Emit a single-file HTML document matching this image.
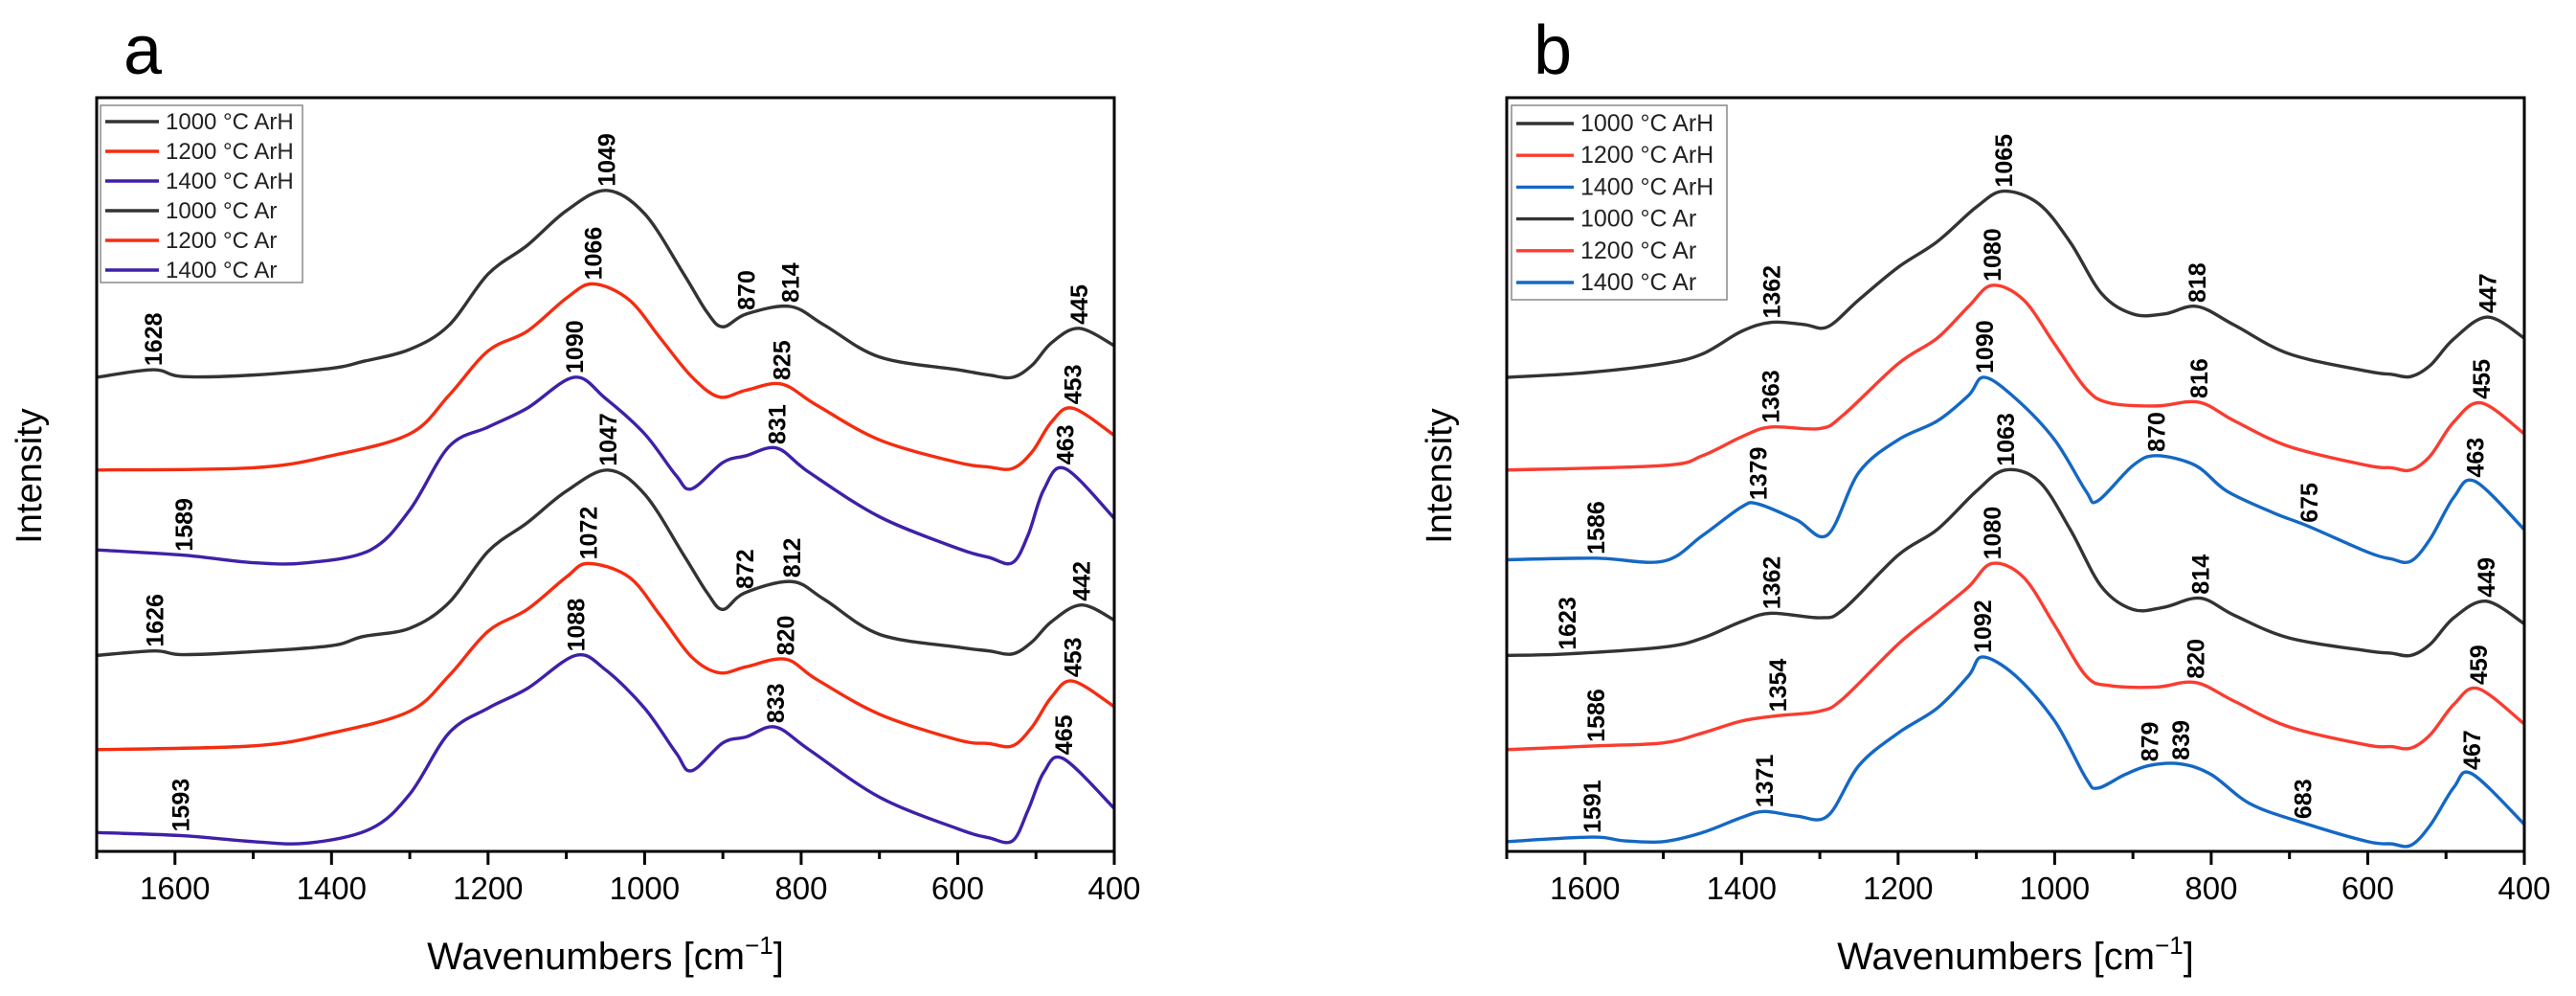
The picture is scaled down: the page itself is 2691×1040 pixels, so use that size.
<!DOCTYPE html>
<html><head><meta charset="utf-8"><style>
body{margin:0;background:#fff;}
svg{display:block;font-family:"Liberation Sans",sans-serif;}
</style></head><body>
<svg id="chart" width="2691" height="1040" viewBox="0 0 2691 1040"></svg>
<script>
const ticksX=[1600,1400,1200,1000,800,600,400];
const minorX=[1700,1600,1500,1400,1300,1200,1100,1000,900,800,700,600,500,400];
const legendLabels=["1000 °C ArH","1200 °C ArH","1400 °C ArH","1000 °C Ar","1200 °C Ar","1400 °C Ar"];
// Panel a data
const a1W=[1700,1628,1590,1500,1400,1360,1300,1250,1200,1150,1100,1049,1000,950,920,900,870,814,770,700,600,560,530,505,480,445,400];
const a1V=[62.9,63.9,63.0,63.2,64.1,65.0,66.6,69.8,76.6,80.4,85.0,87.7,84.6,76.6,71.5,69.6,71.3,72.3,69.8,65.6,63.9,63.2,62.9,64.5,67.5,69.4,67.1];
const a2W=[1700,1500,1400,1300,1250,1200,1150,1100,1066,1020,980,940,905,870,825,780,700,600,560,530,505,480,453,400];
const a2V=[50.6,50.9,52.5,55.4,60.5,66.4,69.0,73.4,75.3,73.2,68.1,63.0,60.3,61.2,62.0,59.2,54.6,51.6,51.0,50.8,53.0,57.0,58.8,55.2];
const a3W=[1700,1589,1500,1430,1350,1300,1250,1200,1150,1090,1050,1000,960,940,900,870,831,790,700,600,560,530,510,490,463,400];
const a3V=[40.0,39.3,38.3,38.3,40.0,45.3,53.7,56.3,58.8,62.9,60.1,55.4,49.9,48.1,51.6,52.5,53.5,50.3,44.4,40.2,39.0,38.3,42.0,48.0,50.8,44.2];
const a4W=[1700,1626,1590,1500,1400,1360,1300,1250,1200,1150,1100,1047,1000,950,920,900,872,812,770,700,600,560,530,505,480,442,400];
const a4V=[26.0,26.6,26.1,26.5,27.3,28.5,29.6,33.0,39.8,43.6,47.8,50.6,47.4,39.3,34.3,32.1,34.3,35.8,33.4,28.8,27.1,26.6,26.2,27.8,30.5,32.7,30.7];
const a5W=[1700,1500,1400,1300,1250,1200,1150,1100,1072,1020,980,940,905,870,820,780,700,600,560,530,505,480,453,400];
const a5V=[13.5,14.0,15.7,18.6,23.3,29.2,32.1,36.4,38.2,36.4,31.3,25.8,23.7,24.5,25.5,22.8,18.2,14.8,14.3,14.0,16.5,20.5,22.6,19.2];
const a6W=[1700,1593,1500,1430,1350,1300,1250,1200,1150,1088,1050,1000,960,940,900,870,833,790,700,600,560,530,510,490,465,400];
const a6V=[2.5,2.1,1.3,1.1,3.0,7.6,15.7,19.0,21.6,26.0,24.1,19.0,13.1,10.7,14.4,15.2,16.5,13.5,7.2,3.0,1.8,1.4,5.5,10.5,12.3,5.7];
// Panel b data
const b1W=[1700,1600,1500,1450,1400,1362,1320,1290,1250,1200,1150,1100,1065,1020,980,940,900,860,818,770,700,600,570,545,520,490,447,400];
const b1V=[62.9,63.5,64.7,66.0,69.0,70.2,69.9,69.6,73.2,77.5,80.9,85.5,87.6,85.9,80.8,74.0,71.3,71.3,72.3,69.8,66.0,63.7,63.3,63.0,64.5,68.0,70.9,68.1];
const b2W=[1700,1500,1450,1400,1363,1300,1270,1200,1150,1110,1080,1040,1000,960,930,870,816,770,700,600,570,545,520,490,455,400];
const b2V=[50.6,51.2,52.5,55.0,56.3,56.1,57.9,64.7,68.1,72.3,75.1,73.2,67.3,61.4,59.5,59.1,59.6,57.1,53.7,51.2,50.9,50.6,52.5,57.0,59.5,55.4];
const b3W=[1700,1586,1500,1450,1400,1379,1330,1290,1250,1200,1150,1110,1090,1050,1000,960,945,900,870,820,780,720,675,600,570,545,520,490,463,400];
const b3V=[38.7,38.9,38.5,41.9,45.7,46.1,44.0,42.0,50.3,54.6,57.1,60.5,62.9,60.1,54.6,47.8,46.5,51.2,52.5,51.2,47.8,44.9,43.1,39.7,38.8,38.5,41.5,47.0,49.1,42.7];
const b4W=[1700,1623,1500,1450,1400,1362,1300,1270,1200,1150,1100,1063,1020,980,940,900,860,814,770,700,600,570,545,520,490,449,400];
const b4V=[26.0,26.2,27.1,28.3,30.5,31.6,31.0,32.1,39.3,42.7,47.8,50.6,49.1,42.7,35.1,32.1,32.4,33.6,31.3,28.3,26.6,26.3,26.0,27.5,31.0,33.2,30.2];
const b5W=[1700,1586,1500,1450,1400,1354,1300,1270,1200,1150,1110,1080,1040,1000,960,930,870,820,770,700,600,570,545,520,490,459,400];
const b5V=[13.5,14.0,14.4,15.7,17.3,18.0,18.6,20.3,27.5,31.7,35.1,38.2,36.4,30.0,23.3,22.0,21.8,22.4,19.9,16.5,14.1,13.9,13.7,15.5,19.5,21.6,16.9];
const b6W=[1700,1591,1550,1500,1450,1400,1371,1330,1290,1250,1200,1150,1110,1092,1050,1000,960,945,910,879,839,800,750,683,600,570,545,520,490,467,400];
const b6V=[1.3,1.9,1.4,1.3,2.5,4.5,5.3,4.7,4.7,11.4,15.7,19.0,23.3,25.8,23.3,17.3,9.7,8.4,10.2,11.4,11.6,10.2,6.3,3.8,1.3,1.0,0.8,3.5,8.5,10.3,3.6];
// Peak labels
const a1P=[1628,1049,870,814,445],a2P=[1066,825,453],a3P=[1589,1090,831,463],a4P=[1626,1047,872,812,442],a5P=[1072,820,453],a6P=[1593,1088,833,465];
const b1P=[1362,1065,818,447],b2P=[1363,1080,816,455],b3P=[1586,1379,1090,870,675,463],b4P=[1623,1362,1063,814,449],b5P=[1586,1354,1080,820,459],b6P=[1591,1371,1092,879,839,683,467];

const NS="http://www.w3.org/2000/svg";
const svg=document.getElementById('chart');
function mk(tag,attrs,parent){const e=document.createElementNS(NS,tag);for(const k in attrs)e.setAttribute(k,attrs[k]);(parent||svg).appendChild(e);return e;}

function panel(id,L,R,T,B,letter,series,colors,legend){
  const g=mk('g',{});
  
  
  const xs=w=>L+(1700-w)/1300*(R-L);
  const ys=v=>B-v/100*(B-T);
  const lt=mk('text',{x:L+48,y:77,'font-size':72,'text-anchor':'middle',fill:'#000'},g);lt.textContent=letter;
  
  
  series.forEach((s,i)=>{
    const W=s[0],V=s[1];
    const P=W.map((w,k)=>[xs(w),ys(V[k])]);
    let d='M'+P[0][0]+','+P[0][1];
    for(let k=0;k<P.length-1;k++){
      const p0=P[Math.max(0,k-1)],p1=P[k],p2=P[k+1],p3=P[Math.min(P.length-1,k+2)];
      const c1=[p1[0]+(p2[0]-p0[0])/6,p1[1]+(p2[1]-p0[1])/6];
      const c2=[p2[0]-(p3[0]-p1[0])/6,p2[1]-(p3[1]-p1[1])/6];
      d+=' C'+c1[0]+','+c1[1]+' '+c2[0]+','+c2[1]+' '+p2[0]+','+p2[1];
    }
    const path=mk('path',{d:d,fill:'none',stroke:colors[i],'stroke-width':3.4,'stroke-linejoin':'round'},g);
    
    
    s[2].forEach(pw=>{
      let v=V[0];
      for(let k=0;k<W.length-1;k++){if(pw<=W[k]&&pw>=W[k+1]){const t=(W[k]-pw)/(W[k]-W[k+1]);v=V[k]+t*(V[k+1]-V[k]);break;}}
      const x=xs(pw),y=ys(v)-4;
      const t=mk('text',{x:0,y:0,transform:'translate('+(x+9)+','+y+') rotate(-90)','font-size':25,'font-weight':'bold',fill:'#000'},g);
      t.textContent=String(pw);
      
      
    });
  });
  const fr=mk('rect',{x:L,y:T,width:R-L,height:B-T,fill:'none',stroke:'#000','stroke-width':3},g);
  
  
  minorX.forEach(w=>{
    const major=ticksX.indexOf(w)>=0;
    const tk=mk('line',{x1:xs(w),x2:xs(w),y1:B,y2:B+(major?14:8),stroke:'#000','stroke-width':3},g);
    
    
  });
  ticksX.forEach(w=>{
    const t=mk('text',{x:xs(w),y:939,'font-size':33,'text-anchor':'middle',fill:'#000'},g);
    t.textContent=String(w);
    
    
  });
  const xt=mk('text',{x:(L+R)/2,y:1012,'font-size':40,'text-anchor':'middle',fill:'#000'},g);
  xt.innerHTML='Wavenumbers [cm<tspan dy="-16" font-size="26">−1</tspan><tspan dy="16">]</tspan>';
  
  
  const yt=mk('text',{x:0,y:0,transform:'translate('+(L-58)+',497) rotate(-90)','font-size':38,'text-anchor':'middle',fill:'#000'},g);
  yt.textContent='Intensity';
  
  
  const lg=mk('g',{},g);
  
  
  mk('rect',{x:legend.x,y:legend.y,width:legend.w,height:legend.h,fill:'#fff',stroke:'#888','stroke-width':1.5},lg);
  legendLabels.forEach((lab,i)=>{
    const yy=legend.y+legend.r0+i*legend.dy;
    const e=mk('g',{},lg);
    
    
    mk('line',{x1:legend.x+5,x2:legend.x+5+legend.lw,y1:yy,y2:yy,stroke:colors[i],'stroke-width':3.4},e);
    const t=mk('text',{x:legend.x+legend.lw+12,y:yy+8,'font-size':legend.fs,fill:'#222'},e);
    t.textContent=lab;
  });
}
const colA=['#333333','#f52c10','#3f20a8','#333333','#f52c10','#3f20a8'];
const colB=['#333333','#fa3c30','#1468c4','#333333','#fa3c30','#1468c4'];
panel('a',101,1164,102,889,'a',[[a1W,a1V,a1P],[a2W,a2V,a2P],[a3W,a3V,a3P],[a4W,a4V,a4P],[a5W,a5V,a5P],[a6W,a6V,a6P]],colA,{x:105,y:110,w:211,h:185,r0:17,dy:31,lw:56,fs:24});
panel('b',1574,2637,102,889,'b',[[b1W,b1V,b1P],[b2W,b2V,b2P],[b3W,b3V,b3P],[b4W,b4V,b4P],[b5W,b5V,b5P],[b6W,b6V,b6P]],colB,{x:1579,y:110,w:225,h:203,r0:19,dy:33.2,lw:60,fs:25});
</script>
</body></html>
